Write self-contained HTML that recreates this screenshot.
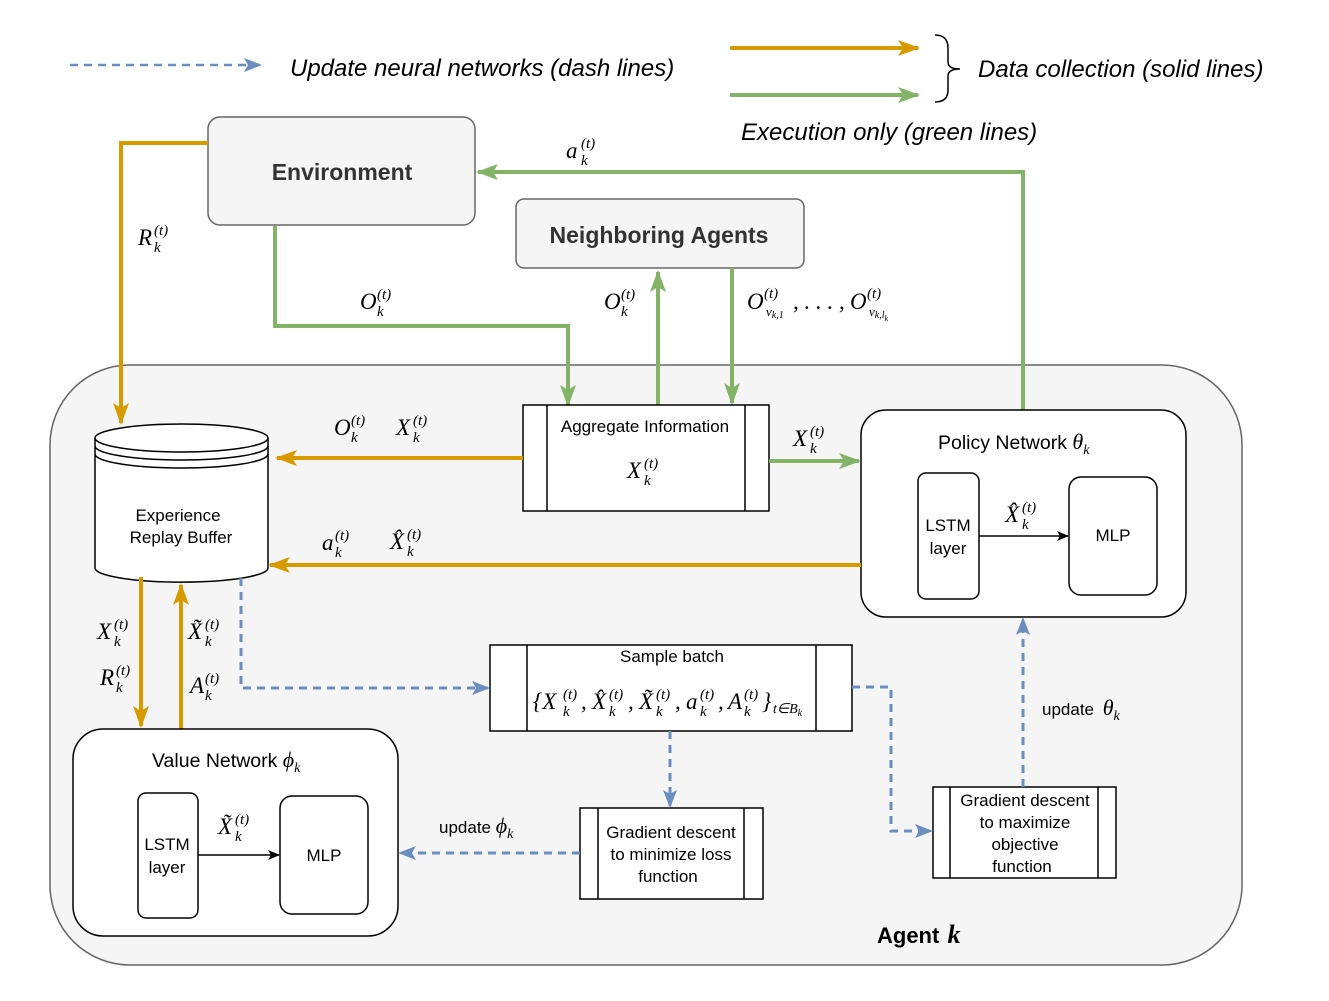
<!DOCTYPE html>
<html><head><meta charset="utf-8"><style>
html,body{margin:0;padding:0;background:#fff;}
svg{display:block;}
.s{font-family:"Liberation Sans",sans-serif;}
.m{font-family:"Liberation Serif",serif;font-style:italic;}
</style></head><body>
<svg width="1329" height="1001" viewBox="0 0 1329 1001" xmlns="http://www.w3.org/2000/svg">
<defs>
<marker id="ab" markerWidth="18" markerHeight="14" refX="16" refY="7" orient="auto" markerUnits="userSpaceOnUse"><path d="M0,0 L18,7 L0,14 L4,7z" fill="#6C8EBF"/></marker>
<marker id="ak" markerWidth="12" markerHeight="10" refX="11" refY="5" orient="auto" markerUnits="userSpaceOnUse"><path d="M0,0 L12,5 L0,10 L3,5z" fill="#000"/></marker>
<marker id="aoL" markerWidth="22" markerHeight="16" refX="20" refY="8" orient="auto" markerUnits="userSpaceOnUse"><path d="M0,0 L22,8 L0,16 L5,8z" fill="#D79B00"/></marker>
<marker id="agL" markerWidth="22" markerHeight="16" refX="20" refY="8" orient="auto" markerUnits="userSpaceOnUse"><path d="M0,0 L22,8 L0,16 L5,8z" fill="#82B366"/></marker>
</defs>

<line x1="70" y1="65" x2="260" y2="65" stroke="#6C8EBF" stroke-width="2.5" stroke-dasharray="8,6" marker-end="url(#ab)"/>
<text x="290" y="76" class="s" font-size="24" font-style="italic">Update neural networks (dash lines)</text>
<line x1="730" y1="48" x2="918" y2="48" stroke="#D79B00" stroke-width="4" marker-end="url(#aoL)"/>
<line x1="730" y1="95" x2="918" y2="95" stroke="#82B366" stroke-width="4" marker-end="url(#agL)"/>
<path d="M935,35 Q948,35 948,48 L948,62 Q948,69 960,69 Q948,69 948,76 L948,90 Q948,102 935,102" fill="none" stroke="#000" stroke-width="1.5"/>
<text x="978" y="77" class="s" font-size="24" font-style="italic">Data collection (solid lines)</text>
<text x="741" y="140" class="s" font-size="24" font-style="italic">Execution only (green lines)</text>

<rect x="50" y="365" width="1192" height="600" rx="80" fill="#f5f5f5" stroke="#666" stroke-width="1.5"/>

<rect x="208" y="117" width="267" height="108" rx="12" fill="#f5f5f5" stroke="#666" stroke-width="1.5"/>
<text x="342" y="180" text-anchor="middle" class="s" font-size="23" font-weight="bold" fill="#333">Environment</text>
<rect x="516" y="199" width="288" height="69" rx="8" fill="#f5f5f5" stroke="#666" stroke-width="1.5"/>
<text x="659" y="243" text-anchor="middle" class="s" font-size="23" font-weight="bold" fill="#333">Neighboring Agents</text>

<polyline points="208,143 121,143 121,423" fill="none" stroke="#D79B00" stroke-width="4" marker-end="url(#aoL)"/>
<polyline points="275,226 275,326 568,326 568,405" fill="none" stroke="#82B366" stroke-width="4" marker-end="url(#agL)"/>
<polyline points="658,405 658,272" fill="none" stroke="#82B366" stroke-width="4" marker-end="url(#agL)"/>
<polyline points="732,268 732,403" fill="none" stroke="#82B366" stroke-width="4" marker-end="url(#agL)"/>
<polyline points="1023,410 1023,172 478,172" fill="none" stroke="#82B366" stroke-width="4" marker-end="url(#agL)"/>

<path d="M95,438 L95,568 A86,14 0 0 0 268,568 L268,438" fill="#fff" stroke="#000" stroke-width="1.5"/>
<ellipse cx="181.5" cy="438" rx="86.5" ry="14" fill="#fff" stroke="#000" stroke-width="1.5"/>
<path d="M95,446 A86.5,14 0 0 0 268,446 M95,454 A86.5,14 0 0 0 268,454" fill="none" stroke="#000" stroke-width="1.5"/>
<text x="178" y="521" text-anchor="middle" class="s" font-size="17">Experience</text>
<text x="181" y="543" text-anchor="middle" class="s" font-size="17">Replay Buffer</text>

<rect x="523" y="405" width="246" height="106" fill="#fff" stroke="#000" stroke-width="1.5"/>
<line x1="547" y1="405" x2="547" y2="511" stroke="#000" stroke-width="1.5"/>
<line x1="745" y1="405" x2="745" y2="511" stroke="#000" stroke-width="1.5"/>
<text x="645" y="432" text-anchor="middle" class="s" font-size="17">Aggregate Information</text>

<rect x="861" y="410" width="325" height="207" rx="25" fill="#fff" stroke="#000" stroke-width="1.5"/>
<text x="938" y="449" class="s" font-size="19.5">Policy Network <tspan font-family="Liberation Serif" font-style="italic" font-size="22">θ</tspan><tspan font-family="Liberation Serif" font-style="italic" font-size="14" dy="5">k</tspan></text>
<rect x="918" y="473" width="61" height="126" rx="8" fill="#fff" stroke="#000" stroke-width="1.5"/>
<text x="948" y="531" text-anchor="middle" class="s" font-size="17">LSTM</text>
<text x="948" y="554" text-anchor="middle" class="s" font-size="17">layer</text>
<rect x="1069" y="477" width="88" height="118" rx="12" fill="#fff" stroke="#000" stroke-width="1.5"/>
<text x="1113" y="541" text-anchor="middle" class="s" font-size="17">MLP</text>
<line x1="979" y1="536" x2="1068" y2="536" stroke="#000" stroke-width="1.5" marker-end="url(#ak)"/>

<polyline points="523,458 277,458" fill="none" stroke="#D79B00" stroke-width="4" marker-end="url(#aoL)"/>
<polyline points="769,461 859,461" fill="none" stroke="#82B366" stroke-width="4" marker-end="url(#agL)"/>
<polyline points="861,565 270,565" fill="none" stroke="#D79B00" stroke-width="4" marker-end="url(#aoL)"/>
<polyline points="141,577 141,726" fill="none" stroke="#D79B00" stroke-width="4" marker-end="url(#aoL)"/>
<polyline points="181,730 181,585" fill="none" stroke="#D79B00" stroke-width="4" marker-end="url(#aoL)"/>

<rect x="490" y="645" width="362" height="86" fill="#fff" stroke="#000" stroke-width="1.5"/>
<line x1="527" y1="645" x2="527" y2="731" stroke="#000" stroke-width="1.5"/>
<line x1="816" y1="645" x2="816" y2="731" stroke="#000" stroke-width="1.5"/>
<text x="672" y="662" text-anchor="middle" class="s" font-size="17">Sample batch</text>

<rect x="73" y="729" width="325" height="207" rx="30" fill="#fff" stroke="#000" stroke-width="1.5"/>
<text x="152" y="767" class="s" font-size="19.5">Value Network <tspan font-family="Liberation Serif" font-style="italic" font-size="22">ϕ</tspan><tspan font-family="Liberation Serif" font-style="italic" font-size="14" dy="5">k</tspan></text>
<rect x="138" y="793" width="60" height="125" rx="8" fill="#fff" stroke="#000" stroke-width="1.5"/>
<text x="167" y="850" text-anchor="middle" class="s" font-size="17">LSTM</text>
<text x="167" y="873" text-anchor="middle" class="s" font-size="17">layer</text>
<rect x="280" y="796" width="88" height="118" rx="12" fill="#fff" stroke="#000" stroke-width="1.5"/>
<text x="324" y="861" text-anchor="middle" class="s" font-size="17">MLP</text>
<line x1="198" y1="855" x2="279" y2="855" stroke="#000" stroke-width="1.5" marker-end="url(#ak)"/>

<rect x="580" y="808" width="183" height="91" fill="#fff" stroke="#000" stroke-width="1.5"/>
<line x1="598" y1="808" x2="598" y2="899" stroke="#000" stroke-width="1.5"/>
<line x1="744" y1="808" x2="744" y2="899" stroke="#000" stroke-width="1.5"/>
<text x="671" y="838" text-anchor="middle" class="s" font-size="17">Gradient descent</text>
<text x="671" y="860" text-anchor="middle" class="s" font-size="17">to minimize loss</text>
<text x="668" y="882" text-anchor="middle" class="s" font-size="17">function</text>
<rect x="933" y="787" width="183" height="91" fill="#fff" stroke="#000" stroke-width="1.5"/>
<line x1="950" y1="787" x2="950" y2="878" stroke="#000" stroke-width="1.5"/>
<line x1="1098" y1="787" x2="1098" y2="878" stroke="#000" stroke-width="1.5"/>
<text x="1025" y="806" text-anchor="middle" class="s" font-size="17">Gradient descent</text>
<text x="1025" y="828" text-anchor="middle" class="s" font-size="17">to maximize</text>
<text x="1025" y="850" text-anchor="middle" class="s" font-size="17">objective</text>
<text x="1022" y="872" text-anchor="middle" class="s" font-size="17">function</text>

<g fill="none" stroke="#6C8EBF" stroke-width="3" stroke-dasharray="8,6">
<polyline points="241,578 241,688 488,688" marker-end="url(#ab)"/>
<polyline points="852,687 891,687 891,831 931,831" marker-end="url(#ab)"/>
<polyline points="670,731 670,806" marker-end="url(#ab)"/>
<polyline points="580,853 400,853" marker-end="url(#ab)"/>
<polyline points="1023,787 1023,619" marker-end="url(#ab)"/>
</g>
<text x="439" y="833" class="s" font-size="17">update <tspan font-family="Liberation Serif" font-style="italic" font-size="22">ϕ</tspan><tspan font-family="Liberation Serif" font-style="italic" font-size="14" dy="5">k</tspan></text>
<text x="1042" y="715" class="s" font-size="17">update <tspan font-family="Liberation Serif" font-style="italic" font-size="22" dx="4">θ</tspan><tspan font-family="Liberation Serif" font-style="italic" font-size="14" dy="5">k</tspan></text>

<g class="m" font-size="23">
<text x="566" y="158">a</text><text x="581" y="148" font-size="15">(t)</text><text x="581" y="165" font-size="15">k</text>
<text x="138" y="245">R</text><text x="154" y="235" font-size="15">(t)</text><text x="154" y="252" font-size="15">k</text>
<text x="360" y="309">O</text><text x="377" y="299" font-size="15">(t)</text><text x="377" y="316" font-size="15">k</text>
<text x="604" y="309">O</text><text x="621" y="299" font-size="15">(t)</text><text x="621" y="316" font-size="15">k</text>
<text x="747" y="309">O</text><text x="764" y="298" font-size="15">(t)</text><text x="766" y="316" font-size="13">ν<tspan font-size="10" dy="2">k,1</tspan></text>
<text x="793" y="309">, . . . ,</text>
<text x="850" y="309">O</text><text x="867" y="298" font-size="15">(t)</text><text x="869" y="316" font-size="13">ν<tspan font-size="10" dy="2">k,l</tspan><tspan font-size="8" dy="3">k</tspan></text>
<text x="334" y="435">O</text><text x="351" y="425" font-size="15">(t)</text><text x="351" y="442" font-size="15">k</text>
<text x="396" y="435">X</text><text x="413" y="425" font-size="15">(t)</text><text x="413" y="442" font-size="15">k</text>
<text x="627" y="478">X</text><text x="644" y="468" font-size="15">(t)</text><text x="644" y="485" font-size="15">k</text>
<text x="793" y="446">X</text><text x="810" y="436" font-size="15">(t)</text><text x="810" y="453" font-size="15">k</text>
<text x="1005" y="522">X̂</text><text x="1022" y="512" font-size="15">(t)</text><text x="1022" y="529" font-size="15">k</text>
<text x="322" y="550">a</text><text x="335" y="540" font-size="15">(t)</text><text x="335" y="557" font-size="15">k</text>
<text x="390" y="549">X̂</text><text x="407" y="539" font-size="15">(t)</text><text x="407" y="556" font-size="15">k</text>
<text x="97" y="639">X</text><text x="114" y="629" font-size="15">(t)</text><text x="114" y="646" font-size="15">k</text>
<text x="100" y="685">R</text><text x="116" y="675" font-size="15">(t)</text><text x="116" y="692" font-size="15">k</text>
<text x="188" y="639">X̃</text><text x="205" y="629" font-size="15">(t)</text><text x="205" y="646" font-size="15">k</text>
<text x="190" y="693">A</text><text x="205" y="683" font-size="15">(t)</text><text x="205" y="700" font-size="15">k</text>
<text x="218" y="834">X̃</text><text x="235" y="824" font-size="15">(t)</text><text x="235" y="841" font-size="15">k</text>
<text x="533" y="709">{X</text><text x="563" y="699" font-size="15">(t)</text><text x="563" y="716" font-size="15">k</text><text x="581" y="709">,</text>
<text x="592" y="709">X̂</text><text x="609" y="699" font-size="15">(t)</text><text x="609" y="716" font-size="15">k</text><text x="628" y="709">,</text>
<text x="639" y="709">X̃</text><text x="656" y="699" font-size="15">(t)</text><text x="656" y="716" font-size="15">k</text><text x="675" y="709">,</text>
<text x="686" y="709">a</text><text x="700" y="699" font-size="15">(t)</text><text x="700" y="716" font-size="15">k</text><text x="718" y="709">,</text>
<text x="728" y="709">A</text><text x="744" y="699" font-size="15">(t)</text><text x="744" y="716" font-size="15">k</text>
<text x="762" y="709">}</text><text x="773" y="713" font-size="14">t∈B<tspan font-size="10" dy="3">k</tspan></text>
</g>
<text x="877" y="943" class="s" font-size="22" font-weight="bold">Agent <tspan font-family="Liberation Serif" font-style="italic" font-size="26" dx="2">k</tspan></text>
</svg>
</body></html>
